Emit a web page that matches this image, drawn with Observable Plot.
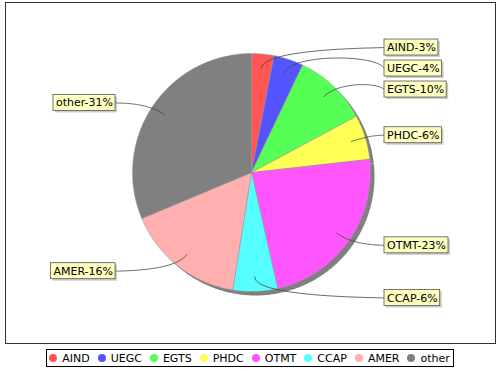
<!DOCTYPE html>
<html><head><meta charset="utf-8">
<script src="https://cdn.jsdelivr.net/npm/d3@7"></script>
<script src="https://cdn.jsdelivr.net/npm/@observablehq/plot@0.6"></script>
<style>
body{margin:0;background:#fff;font-family:"DejaVu Sans",sans-serif;}
#legend{display:flex;justify-content:center;margin-top:4px;}
.box{display:flex;align-items:center;border:1px solid #000;height:16px;padding:0 3px 0 2px;font-size:11px;color:#000;}
.item{display:flex;align-items:center;margin-right:8px}
.item:last-child{margin-right:0}
.dot{width:8px;height:8px;border-radius:50%;margin-right:5px}
</style></head><body>
<div id="chart"></div>
<div id="legend"></div>
<script>
// ---- data ----
const categories = ["AIND","UEGC","EGTS","PHDC","OTMT","CCAP","AMER","other"];
const values = [3,4,10,6,23,6,16,31];
const labels = ["AIND-3%","UEGC-4%","EGTS-10%","PHDC-6%","OTMT-23%","CCAP-6%","AMER-16%","other-31%"];
const colors = ["#ff5555","#5555ff","#55ff55","#ffff55","#ff55ff","#55ffff","#ffafaf","#808080"];

// ---- layout constants (pixels) ----
const W = 500, H = 345, CX = 251, CY = 172, R = 119;
const ML = 5, MR = 5, MT = 2, MB = 2;
const FONT = "11px 'DejaVu Sans'";

const arcs = d3.pie().sort(null).value(d => d.v)(categories.map((k, i) => ({k, v: values[i], label: labels[i]})));

const pt = (a, r) => [Math.sin(a) * r, Math.cos(a) * r];

// slice polygons
const slicePts = [];
for (const a of arcs) {
  const n = Math.max(2, Math.ceil((a.endAngle - a.startAngle) / (Math.PI / 360)));
  slicePts.push({key: a.data.k, x: 0, y: 0});
  for (let j = 0; j <= n; j++) {
    const t = a.startAngle + (a.endAngle - a.startAngle) * j / n;
    const [x, y] = pt(t, 1);
    slicePts.push({key: a.data.k, x, y});
  }
  slicePts.push({key: a.data.k, x: 0, y: 0});
}

// label placement
const ctx = document.createElement("canvas").getContext("2d");
ctx.font = FONT;
const pad = 2.5 / R, halfH = 8 / R, minGap = 21 / R;
const rightEdge = (384 - CX) / R, leftEdge = (115 - CX) / R;
const items = arcs.map(a => {
  const mid = (a.startAngle + a.endAngle) / 2;
  return {key: a.data.k, label: a.data.label, mid, right: mid < Math.PI, y: Math.cos(mid) * 1.055,
          w: ctx.measureText(a.data.label).width / R};
});
for (const side of [true, false]) {
  const s = items.filter(d => d.right === side).sort((a, b) => b.y - a.y);
  for (let i = 1; i < s.length; i++) s[i].y = Math.min(s[i].y, s[i - 1].y - minGap);
}
const boxes = items.map(d => {
  const x1 = d.right ? rightEdge : leftEdge - d.w - 2 * pad;
  const x2 = d.right ? rightEdge + d.w + 2 * pad : leftEdge;
  return {...d, x1, x2, y1: d.y - halfH, y2: d.y + halfH, tx: x1 + pad};
});

// link curves (cubic bezier, sampled)
const linkPts = [];
for (const b of boxes) {
  const [sx, sy] = pt(b.mid, 0.88);
  const [ex1, ey1] = pt(b.mid, 1.05);
  const ax = b.right ? 1.05 : -1.05;
  const tx = b.right ? b.x1 : b.x2, ty = b.y;
  for (let j = 0; j <= 40; j++) {
    const t = j / 40, u = 1 - t;
    const x = u*u*u*sx + 3*u*u*t*ex1 + 3*u*t*t*ax + t*t*t*tx;
    const y = u*u*u*sy + 3*u*u*t*ey1 + 3*u*t*t*ey1 + t*t*t*ty;
    linkPts.push({key: b.key, x, y});
  }
}

const chart = Plot.plot({
  width: W, height: H,
  marginLeft: ML, marginRight: MR, marginTop: MT, marginBottom: MB,
  x: {domain: [(ML - CX) / R, (W - MR - CX) / R], axis: null},
  y: {domain: [(CY - (H - MB)) / R, (CY - MT) / R], axis: null},
  color: {domain: categories, range: colors},
  marks: [
    Plot.frame({stroke: "#333", strokeWidth: 1}),
    Plot.line(slicePts, {x: "x", y: "y", z: "key", fill: "#808080", stroke: "none", dx: 4, dy: 4}),
    Plot.line(slicePts, {x: "x", y: "y", z: "key", fill: "key", stroke: "#999", strokeWidth: 0.5}),
    Plot.line(linkPts, {x: "x", y: "y", z: "key", stroke: "#444", strokeWidth: 0.8}),
    Plot.rect(boxes, {x1: "x1", x2: "x2", y1: "y1", y2: "y2", fill: "rgba(151,151,151,0.5)", dx: 2, dy: 2}),
    Plot.rect(boxes, {x1: "x1", x2: "x2", y1: "y1", y2: "y2", fill: "#ffffc0", stroke: "#555", strokeWidth: 0.8}),
    Plot.text(boxes, {x: "tx", y: "y", text: "label", textAnchor: "start", fontSize: 11, fontFamily: "DejaVu Sans", fill: "#000"})
  ]
});
chart.style.display = "block";
document.getElementById("chart").appendChild(chart);

// legend
const lg = document.createElement("div");
lg.className = "box";
categories.forEach((c, i) => {
  const it = document.createElement("div"); it.className = "item";
  const dot = document.createElement("span"); dot.className = "dot"; dot.style.background = colors[i];
  const tx = document.createElement("span"); tx.textContent = c;
  it.appendChild(dot); it.appendChild(tx); lg.appendChild(it);
});
document.getElementById("legend").appendChild(lg);
</script>
</body></html>
